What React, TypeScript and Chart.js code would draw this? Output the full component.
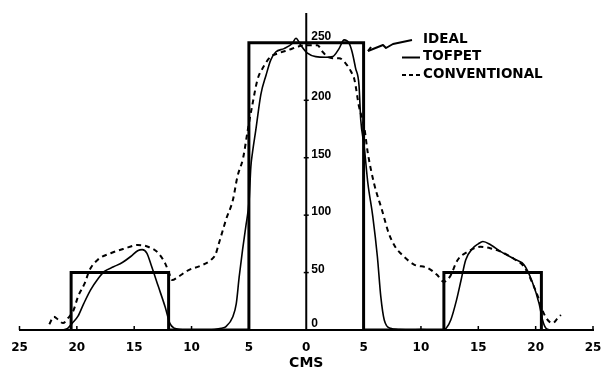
import { useEffect, useRef } from "react";
import { Chart, registerables } from "chart.js";
Chart.register(...registerables);

const seriesLabels = ["IDEAL", "TOFPET", "CONVENTIONAL"];
const axisTitle = "CMS";

const idealX = [-20.5, -20.5, -12, -12, -5, -5, 5, 5, 12, 12, 20.5, 20.5];
const idealY = [0, 50, 50, 0, 0, 250, 250, 0, 0, 50, 50, 0];

const tofpetX = [-21.2, -20.8, -20.4, -19.9, -19.4, -18.8, -18.2, -17.6, -16.8, -16.0, -15.3, -14.7, -14.3, -13.9, -13.5, -12.9, -12.3, -11.9, -11.5, -11.0, -10.0, -9.0, -8.0, -7.4, -7.0, -6.4, -6.1, -5.85, -5.55, -5.27, -4.98, -4.83, -4.68, -4.4, -3.96, -3.5, -3.1, -2.66, -1.94, -1.2, -0.9, -0.48, 0.1, 0.83, 1.7, 2.3, 2.86, 3.3, 3.73, 4.0, 4.3, 4.6, 4.75, 5.05, 5.37, 5.8, 6.2, 6.5, 6.8, 7.35, 8.0, 9.0, 10.0, 11.0, 11.8, 12.2, 12.6, 13.1, 13.5, 13.9, 14.5, 15.0, 15.4, 16.1, 17.0, 18.1, 19.0, 19.7, 20.3, 20.6, 20.9, 21.3];
const tofpetY = [0, 1.5, 6, 12, 23, 35, 44, 51, 55, 59, 64, 69, 70, 67, 56, 38, 20, 6, 1.5, 0.5, 0, 0, 0.5, 1.5, 3, 11.6, 23, 46, 70, 90, 113, 142, 155, 174, 205, 222, 235, 242, 245, 249.7, 254, 248, 241, 238, 237.5, 238, 245, 252.6, 249.7, 242, 228, 213, 183, 160, 128, 99, 64, 29, 8.7, 1.5, 0.5, 0, 0.5, 0, 0, 1.5, 8.7, 26, 43.5, 61, 71, 75, 77, 74, 68, 62, 56.6, 42, 23, 8.7, 1.5, 0];

const convX = [-22.4, -22.0, -21.6, -21.2, -20.8, -20.3, -19.9, -19.3, -18.9, -18.2, -17.0, -15.8, -14.7, -13.8, -12.9, -12.3, -11.9, -11.7, -11.2, -10.3, -9.2, -8.3, -7.9, -7.6, -7.3, -7.0, -6.4, -6.0, -5.5, -5.1, -4.68, -4.25, -3.68, -3.1, -2.4, -1.5, -0.63, 0.1, 0.98, 1.4, 1.85, 2.3, 2.86, 3.45, 3.9, 4.2, 4.6, 5.05, 5.37, 5.9, 6.6, 7.2, 7.75, 8.2, 9.4, 10.6, 11.4, 12.0, 12.5, 13.2, 14.05, 15.2, 16.1, 17.0, 18.1, 19.0, 19.6, 20.2, 20.6, 21.05, 21.5, 21.9, 22.2];
const convY = [5, 11.6, 8.7, 6, 10, 17, 29, 41, 52, 61, 67, 71, 74, 72.5, 67, 58, 48, 43.5, 46, 52, 56, 61, 66, 76, 86, 96, 113, 133.5, 150, 174, 197, 218, 230, 238, 241, 244, 247, 248, 248, 242.5, 238, 236.7, 236.7, 232, 225, 218, 194.5, 177, 154, 128, 104.5, 84, 72.5, 67, 57, 54, 48, 42, 46, 61, 68, 72.5, 71, 68, 62, 55, 43.5, 29, 17, 8.7, 6, 10, 13];

const xTickValues = [-25, -20, -15, -10, -5, 0, 5, 10, 15, 20, 25];
const xTickLabels = ["25", "20", "15", "10", "5", "0", "5", "10", "15", "20", "25"];
const yTickValues = [0, 50, 100, 150, 200, 250];
const yTickLabels = ["0", "50", "100", "150", "200", "250"];

const toPoints = (xs: number[], ys: number[]) => xs.map((x, i) => ({ x, y: ys[i] }));

const axisPlugin = {
  id: "centerAxis",
  beforeDatasetsDraw(chart: any) {
    const { ctx, chartArea, scales } = chart;
    const xs = scales.x;
    const ys = scales.y;
    const ax = xs.getPixelForValue(0);
    ctx.save();
    ctx.strokeStyle = "#000";
    ctx.fillStyle = "#000";
    ctx.lineWidth = 2;
    ctx.beginPath();
    ctx.moveTo(ax, ys.getPixelForValue(0));
    ctx.lineTo(ax, chartArea.top);
    ctx.stroke();
    ctx.lineWidth = 1.5;
    xTickValues.forEach((v) => {
      if (v === 0) return;
      const px = xs.getPixelForValue(v);
      ctx.beginPath();
      ctx.moveTo(px, chartArea.bottom);
      ctx.lineTo(px, chartArea.bottom - 4);
      ctx.stroke();
    });
    ctx.font = "bold 12px 'Liberation Sans'";
    ctx.textAlign = "left";
    ctx.textBaseline = "alphabetic";
    yTickValues.forEach((v, i) => {
      const py = ys.getPixelForValue(v);
      ctx.beginPath();
      ctx.moveTo(ax - 2.5, py);
      ctx.lineTo(ax + 2.5, py);
      ctx.stroke();
      const off = i === 0 || i === yTickValues.length - 1 ? 3 : 0;
      ctx.fillText(yTickLabels[i], ax + 5, py - off);
    });
    ctx.restore();
  },
  afterDraw(chart: any) {
    const { ctx } = chart;
    ctx.save();
    ctx.strokeStyle = "#000";
    ctx.fillStyle = "#000";
    ctx.font = "bold 13.5px 'DejaVu Sans'";
    ctx.textAlign = "left";
    ctx.textBaseline = "alphabetic";
    const tx = 423;
    const base = [43, 60, 78];
    seriesLabels.forEach((s, i) => ctx.fillText(s, tx, base[i]));
    ctx.lineWidth = 2;
    ctx.lineJoin = "round";
    ctx.beginPath();
    ctx.moveTo(368, 51);
    ctx.lineTo(383, 45);
    ctx.lineTo(386, 48);
    ctx.lineTo(393, 44);
    ctx.lineTo(412, 40);
    ctx.stroke();
    ctx.beginPath();
    ctx.moveTo(368, 51);
    ctx.lineTo(371, 47);
    ctx.stroke();
    ctx.beginPath();
    ctx.moveTo(402, 57.5);
    ctx.lineTo(420, 57.5);
    ctx.stroke();
    ctx.setLineDash([4, 3]);
    ctx.beginPath();
    ctx.moveTo(402, 75);
    ctx.lineTo(420, 75);
    ctx.stroke();
    ctx.restore();
  },
};

export default function App() {
  const ref = useRef<HTMLCanvasElement | null>(null);
  useEffect(() => {
    if (!ref.current) return;
    const chart = new Chart(ref.current, {
      type: "scatter",
      data: {
        datasets: [
          {
            label: seriesLabels[0],
            data: toPoints(idealX, idealY),
            showLine: true,
            borderColor: "#000",
            borderWidth: 3,
            pointRadius: 0,
            tension: 0,
            borderJoinStyle: "miter",
          },
          {
            label: seriesLabels[1],
            data: toPoints(tofpetX, tofpetY),
            showLine: true,
            borderColor: "#000",
            borderWidth: 1.6,
            pointRadius: 0,
            cubicInterpolationMode: "monotone",
            borderJoinStyle: "round",
          },
          {
            label: seriesLabels[2],
            data: toPoints(convX, convY),
            showLine: true,
            borderColor: "#000",
            borderWidth: 2,
            borderDash: [5, 4],
            pointRadius: 0,
            cubicInterpolationMode: "monotone",
            borderJoinStyle: "round",
          },
        ],
      } as any,
      options: {
        responsive: false,
        animation: false,
        layout: { padding: { left: 19.5, right: 9, top: 13, bottom: 0 } },
        plugins: { legend: { display: false }, tooltip: { enabled: false } },
        scales: {
          x: {
            type: "linear",
            min: -25,
            max: 25,
            afterBuildTicks: (s: any) => {
              s.ticks = xTickValues.map((v) => ({ value: v }));
            },
            afterFit: (s: any) => {
              s.paddingLeft = 0;
              s.paddingRight = 0;
              s.height = 39;
            },
            grid: { display: false, drawTicks: false, tickLength: 0 },
            border: { display: true, width: 2, color: "#000" },
            ticks: {
              padding: 11,
              color: "#000",
              autoSkip: false,
              maxRotation: 0,
              font: { family: "'DejaVu Sans'", weight: "bold", size: 12 },
              callback: (_v: any, i: number) => xTickLabels[i],
            },
            title: {
              display: true,
              text: axisTitle,
              color: "#000",
              font: { family: "'DejaVu Sans'", weight: "bold", size: 14, lineHeight: 0.8 },
              padding: { top: 0, bottom: 0 },
            },
          },
          y: { type: "linear", min: 0, max: 276, display: false },
        },
      } as any,
      plugins: [axisPlugin],
    });
    return () => chart.destroy();
  }, []);
  return (
    <div style={{ position: "fixed", left: 0, top: 0, width: 602, height: 369, background: "#fff" }}>
      <canvas ref={ref} width={602} height={369} style={{ display: "block" }} />
    </div>
  );
}
